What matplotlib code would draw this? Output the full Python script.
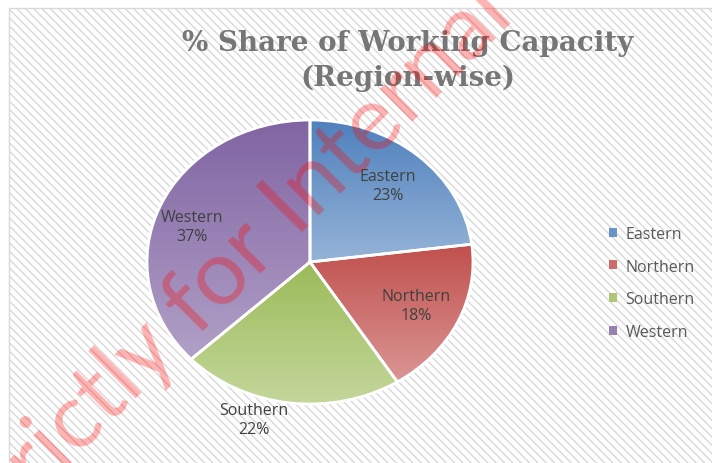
import numpy as np
import matplotlib
matplotlib.use("Agg")
import matplotlib.pyplot as plt
from matplotlib.colors import LinearSegmentedColormap
from matplotlib.patches import Rectangle, Patch

# data
regions = ["Eastern", "Northern", "Southern", "Western"]
share = [23, 18, 22, 37]
top_colors = ["#4f81bd", "#c0504d", "#9bbb59", "#8064a2"]
bottom_colors = ["#95b3d7", "#da9694", "#c4d79b", "#b1a0c7"]
legend_colors = ["#6a94c8", "#cc6b68", "#adc776", "#9780b2"]
title_lines = ["% Share of Working Capacity", "(Region-wise)"]
watermark = "Strictly for Internal"

W, H = 712, 464
fig = plt.figure(figsize=(W / 100, H / 100), dpi=100)
plt.rcParams["hatch.linewidth"] = 1.0

# hatched chart area
bg = Rectangle((9 / W, -0.01), 1, 1 - 9 / H + 0.01, transform=fig.transFigure,
               facecolor="white", edgecolor="#d9d9d9", hatch="\\\\\\\\", lw=1, zorder=-10)
fig.patches.append(bg)

# pie (stretched horizontally like the original)
ax = fig.add_axes([147 / W, 1 - 405 / H, 326 / W, 284 / H])
wedges, _ = ax.pie(share, startangle=90, counterclock=False, radius=1,
                   wedgeprops=dict(edgecolor="white", linewidth=2))

grad = np.linspace(0, 1, 256).reshape(-1, 1)
for w, c0, c1 in zip(wedges, top_colors, bottom_colors):
    ext = w.get_path().get_extents()
    cmap = LinearSegmentedColormap.from_list("g", [c0, c1])
    im = ax.imshow(grad, cmap=cmap, extent=[ext.x0, ext.x1, ext.y0, ext.y1],
                   origin="upper", aspect="auto", zorder=1, interpolation="bilinear")
    im.set_clip_path(w)
    w.set_facecolor("none")
    w.set_zorder(2)
    w.set_clip_on(False)

ax.set_xlim(-1, 1)
ax.set_ylim(-1, 1)
ax.set_aspect("auto")
ax.axis("off")

# data labels
label_r = [0.72, 0.72, 1.16, 0.765]
label_shift = [0, 0, -10, 4.6]
for w, name, pct, r, d in zip(wedges, regions, share, label_r, label_shift):
    ang = np.deg2rad((w.theta1 + w.theta2) / 2 + d)
    ax.text(r * np.cos(ang), r * np.sin(ang), f"{name}\n{pct}%", ha="center", va="center",
            fontsize=11.5, family="Open Sans", color="#404040", linespacing=1.25, zorder=3)

# title
fig.text(408 / W, 1 - 51 / H, title_lines[0], ha="center", va="baseline", fontsize=20,
         fontweight="bold", family="DejaVu Serif", color="#767676")
fig.text(408 / W, 1 - 86 / H, title_lines[1], ha="center", va="baseline", fontsize=20,
         fontweight="bold", family="DejaVu Serif", color="#767676")

# legend
handles = [Patch(facecolor=c, edgecolor="none") for c in legend_colors]
fig.legend(handles, regions, loc="center left", bbox_to_anchor=(595 / W, 1 - 284 / H),
           frameon=False, handlelength=0.5, handleheight=0.5, handletextpad=0.5,
           labelspacing=1.05, prop={"family": "Open Sans", "size": 11.5},
           labelcolor="#595959")

# watermark: place it so the "I" of Internal sits where it does in the original
wm_size = 66
wm_angle = np.deg2rad(45)
fig.canvas.draw()
rend = fig.canvas.get_renderer()
probe = fig.text(0, 0, "Strictly for I", fontsize=wm_size, family="Lato")
w_upto_i = probe.get_window_extent(rend).width
probe.set_text("I")
w_i = probe.get_window_extent(rend).width
probe.remove()
em = wm_size * 100 / 72
xc = w_upto_i - w_i / 2
cap = 0.72 * em
# pixel coords, y pointing down
u = np.array([np.cos(wm_angle), -np.sin(wm_angle)])
v = np.array([-np.sin(wm_angle), -np.cos(wm_angle)])
start = np.array([282.0, 205.0]) - xc * u - cap / 2 * v
fig.text(start[0] / W, 1 - start[1] / H, watermark, rotation=45, rotation_mode="anchor",
         ha="left", va="baseline", fontsize=wm_size, family="Lato", color="red", alpha=0.3,
         zorder=5)

fig.savefig("out.png", dpi=100)
